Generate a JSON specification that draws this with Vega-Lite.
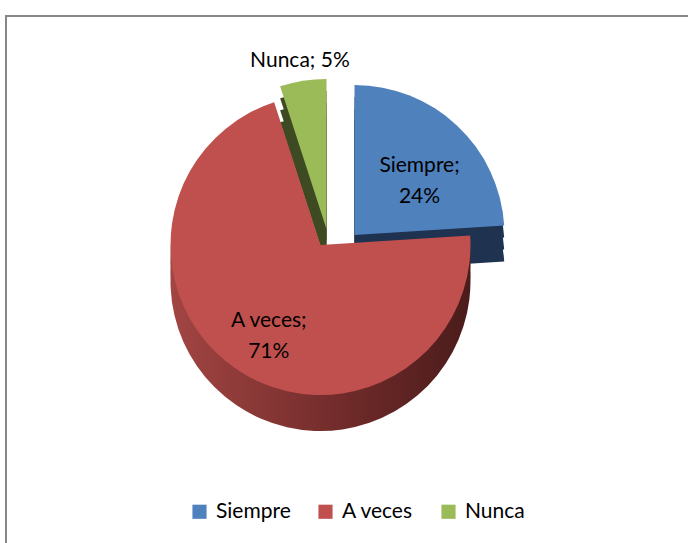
{
  "$schema": "https://vega.github.io/schema/vega-lite/v6.json",
  "autosize": {"type": "fit", "contains": "padding"},
  "width": 688,
  "height": 543,
  "padding": {"left": 5, "top": 15, "right": -4, "bottom": -4},
  "background": "white",
  "config": {
    "view": {"stroke": null},
    "font": "Lato"
  },
  "data": {
    "values": [
      {"cat": "Siempre", "value": 24, "label": "Siempre;\n24%"},
      {"cat": "A veces", "value": 71, "label": "A veces;\n71%"},
      {"cat": "Nunca", "value": 5, "label": "Nunca; 5%"}
    ]
  },
  "transform": [
    {"stack": "value", "groupby": [], "as": ["v0", "v1"]},
    {"calculate": "(datum.v0 + datum.v1) / 2", "as": "mid"}
  ],
  "layer": [
    {"data": {"values": [{"box": 1}]}, "transform": [], "mark": {"type": "rect", "fill": null, "stroke": "#878787", "strokeWidth": 2}, "encoding": {}},
    {"transform": [{"filter": "datum.cat === 'Siempre'"}], "mark": {"type": "arc", "radius": 150, "xOffset": 6, "yOffset": -34, "color": "#1F3250"}, "encoding": {"theta": {"field": "v0", "type": "quantitative", "scale": {"domain": [0, 100]}}, "theta2": {"field": "v1"}}},
    {"transform": [{"filter": "datum.cat === 'Siempre'"}], "mark": {"type": "arc", "radius": 150, "xOffset": 6, "yOffset": -22, "color": "#1F3250"}, "encoding": {"theta": {"field": "v0", "type": "quantitative"}, "theta2": {"field": "v1"}}},
    {"transform": [{"filter": "datum.cat === 'Siempre'"}], "mark": {"type": "arc", "radius": 150, "xOffset": 6, "yOffset": -10, "color": "#1F3250"}, "encoding": {"theta": {"field": "v0", "type": "quantitative"}, "theta2": {"field": "v1"}}},
    {"transform": [{"filter": "datum.cat === 'Nunca'"}], "mark": {"type": "arc", "radius": 150, "xOffset": -22, "yOffset": -40, "color": "#3E4A22"}, "encoding": {"theta": {"field": "v0", "type": "quantitative"}, "theta2": {"field": "v1"}}},
    {"transform": [{"filter": "datum.cat === 'Nunca'"}], "mark": {"type": "arc", "radius": 150, "xOffset": -22, "yOffset": -28, "color": "#3E4A22"}, "encoding": {"theta": {"field": "v0", "type": "quantitative"}, "theta2": {"field": "v1"}}},
    {"transform": [{"filter": "datum.cat === 'Nunca'"}], "mark": {"type": "arc", "radius": 150, "xOffset": -22, "yOffset": -16, "color": "#3E4A22"}, "encoding": {"theta": {"field": "v0", "type": "quantitative"}, "theta2": {"field": "v1"}}},
    {"transform": [{"filter": "datum.cat === 'A veces'"}], "mark": {"type": "arc", "radius": 150, "xOffset": -28, "yOffset": -24, "color": {"gradient": "linear", "x1": 0, "x2": 1, "y1": 0, "y2": 0, "stops": [{"offset": 0, "color": "#A24543"}, {"offset": 0.6, "color": "#6E2A29"}, {"offset": 1, "color": "#4A1C1B"}]}}, "encoding": {"theta": {"field": "v0", "type": "quantitative"}, "theta2": {"field": "v1"}}},
    {"transform": [{"filter": "datum.cat === 'A veces'"}], "mark": {"type": "arc", "radius": 150, "xOffset": -28, "yOffset": -12, "color": {"gradient": "linear", "x1": 0, "x2": 1, "y1": 0, "y2": 0, "stops": [{"offset": 0, "color": "#A24543"}, {"offset": 0.6, "color": "#6E2A29"}, {"offset": 1, "color": "#4A1C1B"}]}}, "encoding": {"theta": {"field": "v0", "type": "quantitative"}, "theta2": {"field": "v1"}}},
    {"transform": [{"filter": "datum.cat === 'A veces'"}], "mark": {"type": "arc", "radius": 150, "xOffset": -28, "yOffset": 0, "color": {"gradient": "linear", "x1": 0, "x2": 1, "y1": 0, "y2": 0, "stops": [{"offset": 0, "color": "#A24543"}, {"offset": 0.6, "color": "#6E2A29"}, {"offset": 1, "color": "#4A1C1B"}]}}, "encoding": {"theta": {"field": "v0", "type": "quantitative"}, "theta2": {"field": "v1"}}},
    {
      "transform": [{"filter": "datum.cat === 'A veces'"}],
      "mark": {"type": "arc", "radius": 150, "xOffset": -28, "yOffset": -36},
      "encoding": {
        "theta": {"field": "v0", "type": "quantitative"}, "theta2": {"field": "v1"},
        "color": {"field": "cat", "type": "nominal", "scale": {"domain": ["Siempre", "A veces", "Nunca"], "range": ["#4F81BD", "#C0504D", "#9BBB59"]}, "legend": {"title": null, "orient": "none", "direction": "horizontal", "legendX": 183, "legendY": 485, "symbolType": "square", "symbolSize": 200, "symbolStrokeWidth": 0, "labelFontSize": 21, "labelFont": "Lato", "labelColor": "#000000", "labelOffset": 6, "columnPadding": 24}}
      }
    },
    {
      "transform": [{"filter": "datum.cat === 'Siempre'"}],
      "mark": {"type": "arc", "radius": 150, "xOffset": 6, "yOffset": -46},
      "encoding": {"theta": {"field": "v0", "type": "quantitative"}, "theta2": {"field": "v1"}, "color": {"field": "cat", "type": "nominal"}}
    },
    {
      "transform": [{"filter": "datum.cat === 'Nunca'"}],
      "mark": {"type": "arc", "radius": 150, "xOffset": -22, "yOffset": -52},
      "encoding": {"theta": {"field": "v0", "type": "quantitative"}, "theta2": {"field": "v1"}, "color": {"field": "cat", "type": "nominal"}}
    },
    {
      "transform": [{"filter": "datum.cat === 'Siempre'"}],
      "mark": {"type": "text", "radius": 95, "xOffset": 6, "yOffset": -46, "fontSize": 21, "lineBreak": "\n", "lineHeight": 31, "color": "#000000", "baseline": "middle"},
      "encoding": {"theta": {"field": "mid", "type": "quantitative"}, "text": {"field": "label"}}
    },
    {
      "transform": [{"filter": "datum.cat === 'A veces'"}],
      "mark": {"type": "text", "radius": 92, "xOffset": -28, "yOffset": -36, "fontSize": 21, "lineBreak": "\n", "lineHeight": 31, "color": "#000000", "baseline": "middle"},
      "encoding": {"theta": {"field": "mid", "type": "quantitative"}, "text": {"field": "label"}}
    },
    {
      "transform": [{"filter": "datum.cat === 'Nunca'"}],
      "mark": {"type": "text", "radius": 170, "xOffset": -22, "yOffset": -52, "fontSize": 21, "color": "#000000", "baseline": "middle"},
      "encoding": {"theta": {"field": "mid", "type": "quantitative"}, "text": {"field": "label"}}
    }
  ]
}
